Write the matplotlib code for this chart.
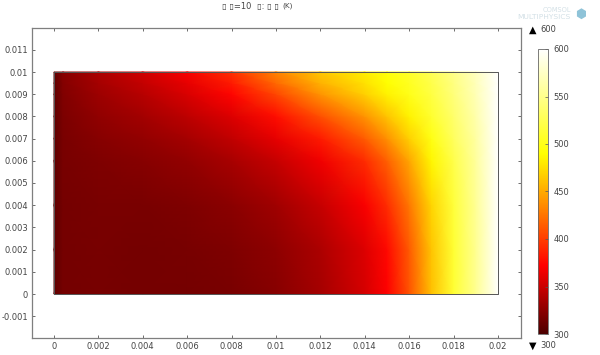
from matplotlib import pyplot as plt
from matplotlib.colors import LinearSegmentedColormap, Normalize
import numpy as np

# Temperature
x_nodes = [0, 0.0004, 0.002, 0.004, 0.006, 0.008, 0.010, 0.012, 0.014, 0.015, 0.016, 0.017, 0.018, 0.019, 0.02]
y_nodes = [0, 0.002, 0.004, 0.006, 0.007, 0.008, 0.009, 0.0095, 0.01]
t_y000 = [308, 316, 317, 316, 316, 318, 323, 335, 354, 372, 410, 460, 512, 552, 600]
t_y002 = [308, 316, 317, 316, 317, 320, 326, 338, 358, 376, 413, 462, 512, 552, 600]
t_y004 = [308, 316, 318, 318, 320, 325, 333, 348, 370, 392, 426, 470, 515, 554, 600]
t_y006 = [308, 317, 320, 323, 328, 336, 348, 366, 392, 416, 448, 486, 522, 557, 600]
t_y007 = [308, 318, 323, 328, 335, 346, 362, 384, 414, 438, 468, 498, 530, 560, 600]
t_y008 = [308, 319, 327, 334, 344, 358, 378, 408, 440, 462, 484, 510, 536, 564, 600]
t_y009 = [308, 321, 332, 342, 356, 374, 404, 440, 468, 484, 500, 518, 542, 568, 600]
t_y095 = [308, 322, 335, 347, 362, 384, 420, 454, 476, 490, 504, 522, 545, 570, 600]
t_y010 = [308, 324, 338, 352, 370, 394, 432, 464, 482, 494, 508, 526, 548, 572, 600]

x_ticks = [0, 0.002, 0.004, 0.006, 0.008, 0.01, 0.012, 0.014, 0.016, 0.018, 0.02]
x_labels = ['0', '0.002', '0.004', '0.006', '0.008', '0.01', '0.012', '0.014', '0.016', '0.018', '0.02']
y_ticks = [-0.001, 0, 0.001, 0.002, 0.003, 0.004, 0.005, 0.006, 0.007, 0.008, 0.009, 0.01, 0.011]
y_labels = ['-0.001', '0', '0.001', '0.002', '0.003', '0.004', '0.005', '0.006', '0.007', '0.008', '0.009', '0.01', '0.011']
cb_ticks = [300, 350, 400, 450, 500, 550, 600]

W, H = 600, 355
GRAY = '#7f7f7f'
TXT = '#444444'

def fig_box(left, top, right, bottom):
    return [left / W, (H - bottom) / H, (right - left) / W, (bottom - top) / H]

heat = LinearSegmentedColormap.from_list('heat', [
    (0, (0.3, 0, 0)),
    (20 / 300, (0.5, 0, 0)),
    (50 / 300, (0.8, 0, 0)),
    (72 / 300, (1, 0, 0)),
    (130 / 300, (1, 0.5, 0)),
    (190 / 300, (1, 1, 0)),
    (1, (1, 1, 1)),
], N=512)
norm = Normalize(300, 600)

fig = plt.figure(figsize=(W / 100, H / 100), dpi=100)
ax = fig.add_axes(fig_box(32, 28, 521, 338))
temps = np.array([t_y000, t_y002, t_y004, t_y006, t_y007, t_y008, t_y009, t_y095, t_y010])
mesh = ax.pcolormesh(x_nodes, y_nodes, temps, cmap=heat, norm=norm, shading='gouraud')

# dominio frame
ax.plot([0, 0.02, 0.02, 0, 0], [0, 0, 0.01, 0.01, 0], color='#555555', lw=0.7)

ax.set_xlim(-22 / 22200, 467 / 22200)
ax.set_ylim(-44 / 22200, 266 / 22200)
ax.set_xticks(x_ticks, x_labels)
ax.set_yticks(y_ticks, y_labels)
ax.tick_params(axis='both', direction='in', length=2, width=0.6, color='#555555',
               labelsize=6, labelcolor=TXT, top=True, right=True, pad=3)
for s in ax.spines.values():
    s.set_color(GRAY)
    s.set_linewidth(0.9)

cax = fig.add_axes(fig_box(538, 49, 548, 334))
cb = fig.colorbar(mesh, cax=cax)
cb.set_ticks(cb_ticks)
cb.ax.tick_params(direction='in', length=2, width=0.5, color='#555555', labelsize=6,
                  labelcolor=TXT, pad=4)
cb.outline.set_edgecolor('#666666')
cb.outline.set_linewidth(0.6)

fig.text(529 / W, 1 - 30 / H, '▲', fontsize=7, color='black', ha='left', va='center')
fig.text(540 / W, 1 - 30 / H, '600', fontsize=6, color=TXT, ha='left', va='center')
fig.text(529 / W, 1 - 346 / H, '▼', fontsize=7, color='black', ha='left', va='center')
fig.text(540 / W, 1 - 346 / H, '300', fontsize=6, color=TXT, ha='left', va='center')

# titulo com caracteres em falta
fig.text(222 / W, 1 - 7 / H, '▯ ▯=10', fontsize=6, color=TXT, ha='left', va='center')
fig.text(257 / W, 1 - 7 / H, '▯: ▯ ▯', fontsize=6, color=TXT, ha='left', va='center')
fig.text(282 / W, 1 - 6 / H, '(K)', fontsize=5.2, color=TXT, ha='left', va='center')

# logo
fig.text(571 / W, 1 - 10 / H, 'COMSOL', fontsize=4.8, color='#d3e0e6', ha='right', va='center')
fig.text(571 / W, 1 - 17 / H, 'MULTIPHYSICS', fontsize=5.4, color='#d3e0e6', ha='right', va='center')
fig.text(581 / W, 1 - 14 / H, '⬢', fontsize=9, color='#8fc3d8', ha='center', va='center')

plt.savefig('out.png', dpi=100)
